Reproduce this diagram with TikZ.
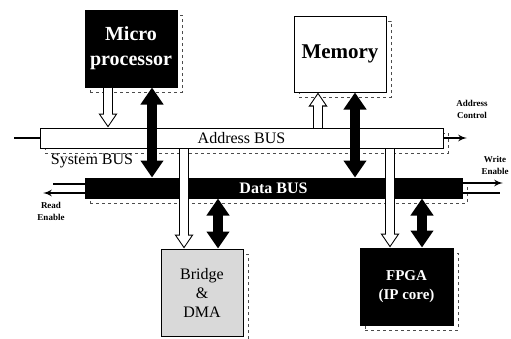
\documentclass[tikz,border=0pt]{standalone}
\usepackage{fontspec}
\setmainfont{Liberation Serif}
\usetikzlibrary{arrows,arrows.meta,shadows}
\tikzset{
    shade/.style={general shadow={draw=black!70,dashed,thin,shadow xshift=5pt,shadow yshift=-5pt}},
    block/.style={draw,line width=1pt,inner sep=0pt,align=center,shade,
        font=\bfseries\fontsize{20}{25}\selectfont},
    bus/.style={draw,line width=1pt,inner sep=0pt,minimum height=20pt,shade,
        font=\fontsize{16}{18}\selectfont},
    fat/.style={line width=10pt,{Triangle[width=22pt,length=17pt]}-{Triangle[width=22pt,length=17pt]}},
    hollow/.style={draw=white,line width=8pt,-{Triangle[width=14pt,length=11pt]},shorten >=1.8pt,
        preaction={draw=black,line width=10.5pt,-{Triangle[width=18pt,length=14pt]},shorten >=0pt}},
    signal/.style={line width=2pt,->,>=latex'},
    tag/.style={align=center,font=\bfseries\fontsize{9}{12}\selectfont}
}

\begin{document}
\begin{tikzpicture}[x=1pt,y=-1pt]
\useasboundingbox (0,0) rectangle (511,338);

\node[bus,fill=white,minimum width=403pt] (abus) at (241.5,138) {Address BUS};
\node[bus,fill=black,text=white,minimum width=377pt,font=\bfseries\fontsize{16}{18}\selectfont] (dbus) at (273.5,188) {Data BUS};
\node[font=\fontsize{16}{18}\selectfont] (sys) at (92,161) {System BUS};

\node[block,fill=black,text=white,minimum width=92pt,minimum height=77pt] (cpu) at (131,48.5) {Micro\\processor};
\node[block,fill=white,minimum width=92pt,minimum height=76pt,font=\bfseries\fontsize{21}{25}\selectfont] (mem) at (340,54) {Memory};
\node[block,fill=gray!30,minimum width=82pt,minimum height=87pt,font=\fontsize{16}{19}\selectfont] (bridge) at (202,292.5) {Bridge\\\&\\DMA};
\node[block,fill=black,text=white,minimum width=93pt,minimum height=77pt,font=\bfseries\fontsize{15}{19}\selectfont] (fpga) at (406.5,286.5) {FPGA\\(IP core)};

\node[tag] (actl) at (472,109) {Address\\Control};
\node[tag] (wen) at (495,165) {Write\\Enable};
\node[tag] (ren) at (51,211) {Read\\Enable};

\coordinate (ain) at (14,138);
\coordinate (aout) at (467,138);
\coordinate (rdout) at (43,193);
\coordinate (rdin) at (53,184);
\coordinate (wrout) at (503,183);
\coordinate (wrin) at (500,193);

\draw[line width=2.5pt] (ain) -- (abus.west);
\draw[signal] (abus.east) -- (aout);
\draw[signal] ([yshift=-5pt]dbus.west) -- (rdout);
\draw[line width=2pt] ([yshift=4pt]dbus.west) -- (rdin);
\draw[signal] ([yshift=5pt]dbus.east) -- (wrout);
\draw[line width=2pt] ([yshift=-5pt]dbus.east) -- (wrin);

\draw[hollow] ([xshift=-23pt]cpu.south) -- ([xshift=-23pt]cpu.south |- abus.north);
\draw[fat] ([xshift=21pt]cpu.south) -- ([xshift=21pt]cpu.south |- dbus.north);
\draw[hollow] ([xshift=-22pt]mem.south |- abus.north) -- ([xshift=-22pt]mem.south);
\draw[fat] ([xshift=15pt]mem.south) -- ([xshift=15pt]mem.south |- dbus.north);
\draw[hollow] ([xshift=-18pt]bridge.north |- abus.south) -- ([xshift=-18pt]bridge.north);
\draw[fat] ([xshift=16pt]bridge.north |- dbus.south) -- ([xshift=16pt]bridge.north);
\draw[hollow] ([xshift=-16.5pt]fpga.north |- abus.south) -- ([xshift=-16.5pt]fpga.north);
\draw[fat] ([xshift=15.5pt]fpga.north |- dbus.south) -- ([xshift=15.5pt]fpga.north);

\end{tikzpicture}
\end{document}
